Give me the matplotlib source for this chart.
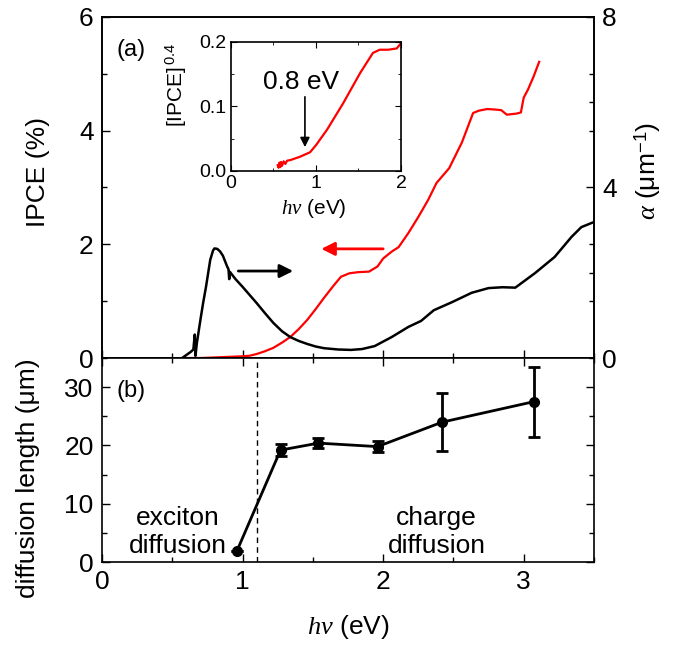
import matplotlib
matplotlib.use("Agg")
import matplotlib.pyplot as plt
from matplotlib.ticker import MultipleLocator, FixedLocator

plt.rcParams['font.family'] = ['Liberation Sans', 'DejaVu Sans']
plt.rcParams['mathtext.fontset'] = 'custom'
plt.rcParams['mathtext.rm'] = 'Liberation Sans'
plt.rcParams['mathtext.it'] = 'Liberation Serif:italic'
plt.rcParams['mathtext.bf'] = 'Liberation Sans:bold'

# ---- data: IPCE (red, left axis, %) ----
ipce_x = [0.59, 0.7, 0.8, 0.9, 1.0, 1.05, 1.1, 1.16, 1.22, 1.28, 1.34, 1.40, 1.46, 1.52,
          1.58, 1.64, 1.70, 1.76, 1.82, 1.90, 1.96, 2.0, 2.06, 2.11, 2.18, 2.25, 2.32,
          2.38, 2.47, 2.56, 2.64, 2.68, 2.74, 2.80, 2.84, 2.88, 2.95, 2.98, 3.0, 3.03,
          3.07, 3.11]
ipce_y = [0.0, 0.0, 0.01, 0.02, 0.03, 0.04, 0.07, 0.12, 0.18, 0.27, 0.37, 0.51, 0.67, 0.86,
          1.06, 1.25, 1.43, 1.49, 1.51, 1.52, 1.61, 1.75, 1.87, 1.95, 2.2, 2.48, 2.78,
          3.08, 3.34, 3.79, 4.31, 4.35, 4.38, 4.37, 4.36, 4.28, 4.30, 4.32, 4.58, 4.72,
          4.95, 5.21]

# ---- data: absorption alpha (black, right axis, um^-1) ----
alpha_x = [0.57, 0.60, 0.63, 0.65, 0.66, 0.665, 0.675, 0.70, 0.72, 0.74, 0.77, 0.79, 0.80,
           0.82, 0.84, 0.86, 0.89, 0.90, 0.905, 0.91, 0.95, 1.0, 1.05, 1.1, 1.16, 1.22,
           1.28, 1.34, 1.40, 1.46, 1.52, 1.58, 1.68, 1.77, 1.85, 1.94, 2.06, 2.18, 2.27,
           2.36, 2.49, 2.63, 2.75, 2.85, 2.94, 3.08, 3.22, 3.34, 3.41, 3.5]
alpha_y = [0.0, 0.07, 0.14, 0.2, 0.55, 0.05, 0.35, 0.89, 1.3, 1.67, 2.30, 2.52, 2.57,
           2.56, 2.50, 2.40, 2.15, 2.08, 1.85, 2.02, 1.85, 1.67, 1.48, 1.29, 1.05, 0.82,
           0.63, 0.49, 0.40, 0.33, 0.27, 0.23, 0.20, 0.19, 0.21, 0.28, 0.49, 0.73, 0.87,
           1.12, 1.31, 1.53, 1.64, 1.66, 1.65, 1.99, 2.37, 2.84, 3.07, 3.19]

# ---- inset: IPCE^0.4 ----
ins_x = [0.55, 0.56, 0.57, 0.58, 0.59, 0.60, 0.62, 0.64, 0.66, 0.7, 0.81, 0.93, 1.0, 1.13,
         1.32, 1.52, 1.67, 1.75, 1.85, 1.95, 2.0]
ins_y = [0.009, 0.005, 0.013, 0.006, 0.014, 0.008, 0.015, 0.011, 0.016, 0.017, 0.022,
         0.029, 0.040, 0.064, 0.105, 0.152, 0.183, 0.188, 0.188, 0.190, 0.198]

# ---- panel (b): diffusion length ----
dl_x = [0.96, 1.27, 1.54, 1.96, 2.42, 3.07]
dl_y = [1.9, 19.2, 20.4, 19.8, 24.0, 27.5]
dl_err = [0.0, 1.0, 0.9, 0.9, 5.0, 6.0]

fig = plt.figure(figsize=(6.74, 6.46), dpi=100)

ax1 = fig.add_axes([0.1513, 0.4458, 0.730, 0.528])
ax2 = ax1.twinx()
axb = fig.add_axes([0.1513, 0.130, 0.730, 0.3158])
axi = fig.add_axes([0.3427, 0.7353, 0.2522, 0.1997])

TF = 19
LF = 19

# top panel
ax1.plot(ipce_x, ipce_y, color='#ff0000', lw=1.6, zorder=3)
ax2.plot(alpha_x, alpha_y, color='black', lw=1.8, zorder=3)
ax1.set_xlim(0, 3.5)
ax1.set_ylim(0, 6)
ax2.set_ylim(0, 8)
ax1.xaxis.set_major_locator(MultipleLocator(1))
ax1.xaxis.set_minor_locator(MultipleLocator(0.5))
ax1.yaxis.set_major_locator(MultipleLocator(2))
ax1.yaxis.set_minor_locator(MultipleLocator(1))
ax2.yaxis.set_major_locator(FixedLocator([0, 4, 8]))
ax2.yaxis.set_minor_locator(FixedLocator([4/3, 2, 8/3, 16/3, 6, 20/3]))
ax1.tick_params(axis='both', which='both', direction='in', labelsize=TF, pad=6)
ax1.tick_params(which='major', length=6, width=1)
ax1.tick_params(which='minor', length=3.5, width=1)
ax1.tick_params(axis='x', labelbottom=False)
ax2.tick_params(axis='y', which='both', direction='in', labelsize=TF, pad=6)
ax2.tick_params(which='major', length=6, width=1)
ax2.tick_params(which='minor', length=3.5, width=1)
ax1.set_ylabel('IPCE (%)', fontsize=LF, va='center')
ax1.yaxis.set_label_coords(-0.13, 0.545)
ax2.set_ylabel(r'$\alpha$ (μm$^{-1}$)', fontsize=LF, va='center')
ax2.yaxis.set_label_coords(1.108, 0.55)
ax1.text(0.1, 5.42, '(a)', fontsize=17, ha='left', va='center')

ax1.annotate('', xy=(1.36, 1.53), xytext=(0.97, 1.53),
             arrowprops=dict(arrowstyle='-|>', color='black', lw=2, mutation_scale=20,
                             shrinkA=0, shrinkB=0))
ax1.annotate('', xy=(1.56, 1.92), xytext=(2.0, 1.92),
             arrowprops=dict(arrowstyle='-|>', color='#ff0000', lw=2, mutation_scale=20,
                             shrinkA=0, shrinkB=0))

for ax in (ax1, ax2, axb, axi):
    for s in ax.spines.values():
        s.set_linewidth(1.2)

# inset
axi.plot(ins_x, ins_y, color='#ff0000', lw=1.6)
axi.set_xlim(0, 2)
axi.set_ylim(0, 0.2)
axi.xaxis.set_major_locator(MultipleLocator(1))
axi.xaxis.set_minor_locator(MultipleLocator(0.5))
axi.yaxis.set_major_locator(MultipleLocator(0.1))
axi.yaxis.set_minor_locator(MultipleLocator(0.05))
axi.tick_params(axis='both', which='both', direction='in', labelsize=14, pad=3,
                right=True, top=True)
axi.tick_params(which='major', length=4)
axi.tick_params(which='minor', length=2.5)
axi.set_xticks([0, 1, 2])
axi.set_xticklabels(['0', '1', '2'])
axi.set_yticks([0, 0.1, 0.2])
axi.set_yticklabels(['0.0', '0.1', '0.2'])
axi.set_xlabel(r'$h\nu$ (eV)', fontsize=15, va='center')
axi.xaxis.set_label_coords(0.49, -0.29)
axi.set_ylabel(r'[IPCE]$^{\,0.4}$', fontsize=15, va='center')
axi.yaxis.set_label_coords(-0.32, 0.67)
axi.text(0.82, 0.138, '0.8 eV', fontsize=19, ha='center', va='center')
axi.annotate('', xy=(0.87, 0.037), xytext=(0.87, 0.115),
             arrowprops=dict(arrowstyle='-|>', color='black', lw=1.2, mutation_scale=14,
                             shrinkA=0, shrinkB=0))

# bottom panel
axb.errorbar(dl_x, dl_y, yerr=dl_err, color='black', lw=2, marker='o', markersize=7,
             capsize=4, capthick=2, elinewidth=2)
axb.axvline(1.1, color='black', lw=1, ls=(0, (4, 3)))
axb.set_xlim(0, 3.5)
axb.set_ylim(0, 35)
axb.xaxis.set_major_locator(MultipleLocator(1))
axb.xaxis.set_minor_locator(MultipleLocator(0.5))
axb.yaxis.set_major_locator(MultipleLocator(10))
axb.yaxis.set_minor_locator(MultipleLocator(5))
axb.tick_params(axis='both', which='both', direction='in', labelsize=TF, pad=6,
                top=True, right=True)
axb.tick_params(which='major', length=6, width=1)
axb.tick_params(which='minor', length=3.5, width=1)
axb.set_xlabel(r'$h\nu$ (eV)', fontsize=LF, va='center')
axb.xaxis.set_label_coords(0.5, -0.32)
axb.set_ylabel('diffusion length (μm)', fontsize=LF, va='center')
axb.yaxis.set_label_coords(-0.15, 0.41)
axb.text(0.1, 29.4, '(b)', fontsize=17, ha='left', va='center')
axb.text(0.54, 5.2, 'exciton\ndiffusion', fontsize=LF, ha='center', va='center',
         linespacing=1.2)
axb.text(2.38, 5.2, 'charge\ndiffusion', fontsize=LF, ha='center', va='center',
         linespacing=1.2)

fig.savefig('out.png', dpi=100)
